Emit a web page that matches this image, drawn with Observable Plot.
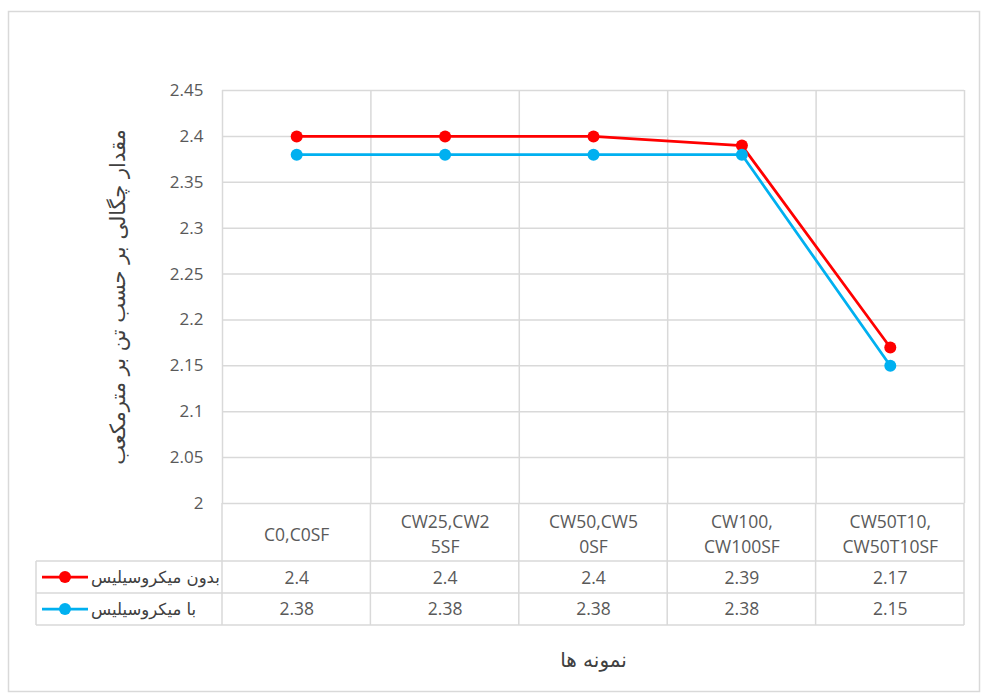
<!DOCTYPE html>
<html>
<head>
<meta charset="utf-8">
<script src="https://cdn.jsdelivr.net/npm/d3@7"></script>
<script src="https://cdn.jsdelivr.net/npm/@observablehq/plot@0.6"></script>
<style>
  body { margin: 0; background: #fff; }
  #chart svg { display: block; }
</style>
</head>
<body>
<div id="chart"></div>
<script>
// ---- data ----
const categories = ["C0,C0SF", "CW25,CW25SF", "CW50,CW50SF", "CW100,CW100SF", "CW50T10,CW50T10SF"];
const categoryLabels = ["C0,C0SF", "CW25,CW2\n5SF", "CW50,CW5\n0SF", "CW100,\nCW100SF", "CW50T10,\nCW50T10SF"];
const seriesNames = ["بدون میکروسیلیس", "با میکروسیلیس"];
const withoutMicrosilica = [2.4, 2.4, 2.4, 2.39, 2.17];
const withMicrosilica = [2.38, 2.38, 2.38, 2.38, 2.15];
const seriesColors = ["#FF0000", "#00B0F0"];
const yTicks = [2, 2.05, 2.1, 2.15, 2.2, 2.25, 2.3, 2.35, 2.4, 2.45];
const yTitle = "مقدار چگالی بر حسب تن بر مترمکعب";
const xTitle = "نمونه ها";

const seriesValues = [withoutMicrosilica, withMicrosilica];
const rows = seriesNames.flatMap((name, s) =>
  seriesValues[s].map((value, i) => ({ name, s, i, category: categories[i], value })));

const persianFont = "'DejaVu Sans', sans-serif";
const numFont = "'Open Sans', 'Noto Sans', sans-serif";
const grid = "#d9d9d9";
const textColor = "#595959";

const plot = Plot.plot({
  width: 982,
  height: 693,
  marginLeft: 222,
  marginRight: 18,
  marginTop: 90,
  marginBottom: 190,
  style: { fontFamily: numFont, fontSize: "17px", color: textColor, background: "#fff" },
  x: { domain: [0, categories.length], axis: null },
  y: { domain: [2, 2.45], axis: null },
  color: { domain: seriesNames, range: seriesColors },
  marks: [
    Plot.ruleY(yTicks, { stroke: grid, strokeWidth: 1.5 }),
    Plot.ruleX(d3.range(categories.length + 1), { stroke: grid, strokeWidth: 1.5 }),
    Plot.axisY({ ticks: yTicks, tickSize: 0, tickPadding: 19, fontSize: 17, label: null,
                 tickFormat: d => String(+d.toFixed(2)) }),
    ...seriesNames.flatMap(name => {
      const d = rows.filter(r => r.name === name);
      return [
        Plot.line(d, { x: r => r.i + 0.5, y: "value", stroke: "name", strokeWidth: 2.75 }),
        Plot.dot(d, { x: r => r.i + 0.5, y: "value", fill: "name", r: 6 })
      ];
    }),
    // category header row of data table
    Plot.text(categoryLabels, { x: (d, i) => i + 0.5, frameAnchor: "bottom", lineAnchor: "middle",
                                dy: 29, lineHeight: 1.45, fontSize: 17.5, fill: textColor }),
    // data table values
    Plot.text(rows.filter(r => r.s === 0), { x: r => r.i + 0.5, frameAnchor: "bottom", lineAnchor: "middle",
                                dy: 75, text: r => String(r.value), fontSize: 17.5, fill: textColor }),
    Plot.text(rows.filter(r => r.s === 1), { x: r => r.i + 0.5, frameAnchor: "bottom", lineAnchor: "middle",
                                dy: 106, text: r => String(r.value), fontSize: 17.5, fill: textColor }),
    // axis titles
    Plot.text([yTitle], { frameAnchor: "left", textAnchor: "middle", lineAnchor: "middle", dx: -104,
                          rotate: -90, fontSize: 21, fontFamily: persianFont, fill: "#404040" }),
    Plot.text([xTitle], { frameAnchor: "bottom", textAnchor: "middle", lineAnchor: "middle", dy: 157,
                          fontSize: 20, fontFamily: persianFont, fill: "#404040" })
  ]
});

document.getElementById("chart").appendChild(plot);

// ---- data table grid & legend keys (positions from Plot scales) ----
const svg = d3.select(plot);
const xs = plot.scale("x"), ys = plot.scale("y");
const y0 = ys.apply(2);
const tableLeft = 36;
const xRight = xs.apply(categories.length);
const rowTops = [58, 90, 122].map(o => y0 + o);

svg.append("rect")
  .attr("x", 8.5).attr("y", 11.5).attr("width", 971).attr("height", 680)
  .attr("fill", "none").attr("stroke", grid).attr("stroke-width", 1.5);

const g = svg.append("g").attr("stroke", grid).attr("stroke-width", 1.5);
rowTops.forEach(y => g.append("line").attr("x1", tableLeft).attr("x2", xRight).attr("y1", y).attr("y2", y));
d3.range(categories.length + 1).forEach(k =>
  g.append("line").attr("x1", xs.apply(k)).attr("x2", xs.apply(k)).attr("y1", y0).attr("y2", rowTops[2]));
g.append("line").attr("x1", tableLeft).attr("x2", tableLeft).attr("y1", rowTops[0]).attr("y2", rowTops[2]);

seriesNames.forEach((name, s) => {
  const cy = (rowTops[s] + rowTops[s + 1]) / 2;
  const k = svg.append("g");
  k.append("line").attr("x1", 42).attr("x2", 88).attr("y1", cy).attr("y2", cy)
    .attr("stroke", seriesColors[s]).attr("stroke-width", 2.75);
  k.append("circle").attr("cx", 65).attr("cy", cy).attr("r", 6).attr("fill", seriesColors[s]);
  k.append("text").attr("x", 91).attr("y", cy).attr("dy", "0.35em")
    .attr("text-anchor", "start").attr("font-family", persianFont).attr("font-size", 16.5)
    .attr("fill", "#404040").text(name);
});
</script>
</body>
</html>
